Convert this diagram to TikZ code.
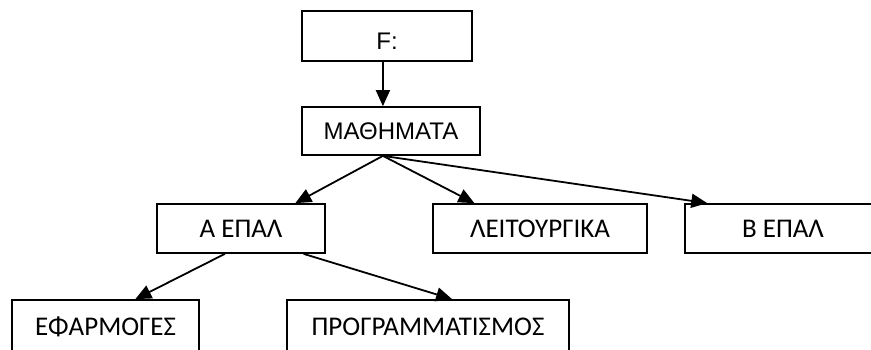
\documentclass[tikz,border=0pt]{standalone}
\usepackage{fontspec}
\setmainfont{Carlito}
\newfontfamily\arialfont{Liberation Sans}
\usetikzlibrary{arrows.meta}
\usetikzlibrary{calc}
\usetikzlibrary{positioning}

\begin{document}
\begin{tikzpicture}[
  x=1pt,y=-1pt,
  font=\fontsize{27}{32}\selectfont,
  box/.style={draw,line width=1.7pt,inner sep=0pt,minimum height=49pt},
  topbox/.style={box,font=\arialfont\fontsize{24}{28}\selectfont},
  cut/.style={box,minimum height=53pt},
  link/.style={->,>={Triangle[length=16pt,width=14pt]},line width=1.8pt},
  every node/.style={align=center}]

  \useasboundingbox (0,0) rectangle (871,349);
  \clip (0,0) rectangle (871,349);

  % Position the nodes at their places in the page
  \node[topbox,minimum width=170pt,minimum height=50pt,text height=27pt] (f) at (387,36) {F:};
  \node[topbox,minimum width=178pt,minimum height=48pt] (mathimata) at (391,131) {ΜΑΘΗΜΑΤΑ};

  \node[box,minimum width=168pt] (aepal) at (241,228.5) {Α ΕΠΑΛ};
  \node[box,minimum width=214pt] (leitourgika) at (540,228.5) {ΛΕΙΤΟΥΡΓΙΚΑ};
  \node[box,minimum width=196pt] (bepal) at (783,228.5) {Β ΕΠΑΛ};

  \node[cut,minimum width=187pt] (efarmoges) at (105.5,326.5) {ΕΦΑΡΜΟΓΕΣ};
  \node[cut,minimum width=282pt] (programmatismos) at (428,326.5) {ΠΡΟΓΡΑΜΜΑΤΙΣΜΟΣ};

  % Points where the links leave the boxes
  \coordinate (mhub) at ($(mathimata.south west)!0.455!(mathimata.south east)$);
  \coordinate (aleft) at ($(aepal.south west)!0.405!(aepal.south east)$);
  \coordinate (aright) at ($(aepal.south west)!0.869!(aepal.south east)$);

  % Draw the arrows between the nodes
  \draw[link] (f.south -| mhub) -- (mathimata.north -| mhub);

  \draw[link] (mhub) -- ($(aepal.north west)!0.82!(aepal.north east)$);
  \draw[link] (mhub) -- ($(leitourgika.north west)!0.196!(leitourgika.north east)$);
  \draw[link] (mhub) -- ($(bepal.north west)!0.117!(bepal.north east)$);

  \draw[link] (aleft) -- ($(efarmoges.north west)!0.658!(efarmoges.north east)$);
  \draw[link] (aright) -- ($(programmatismos.north west)!0.585!(programmatismos.north east)$);
\end{tikzpicture}
\end{document}
